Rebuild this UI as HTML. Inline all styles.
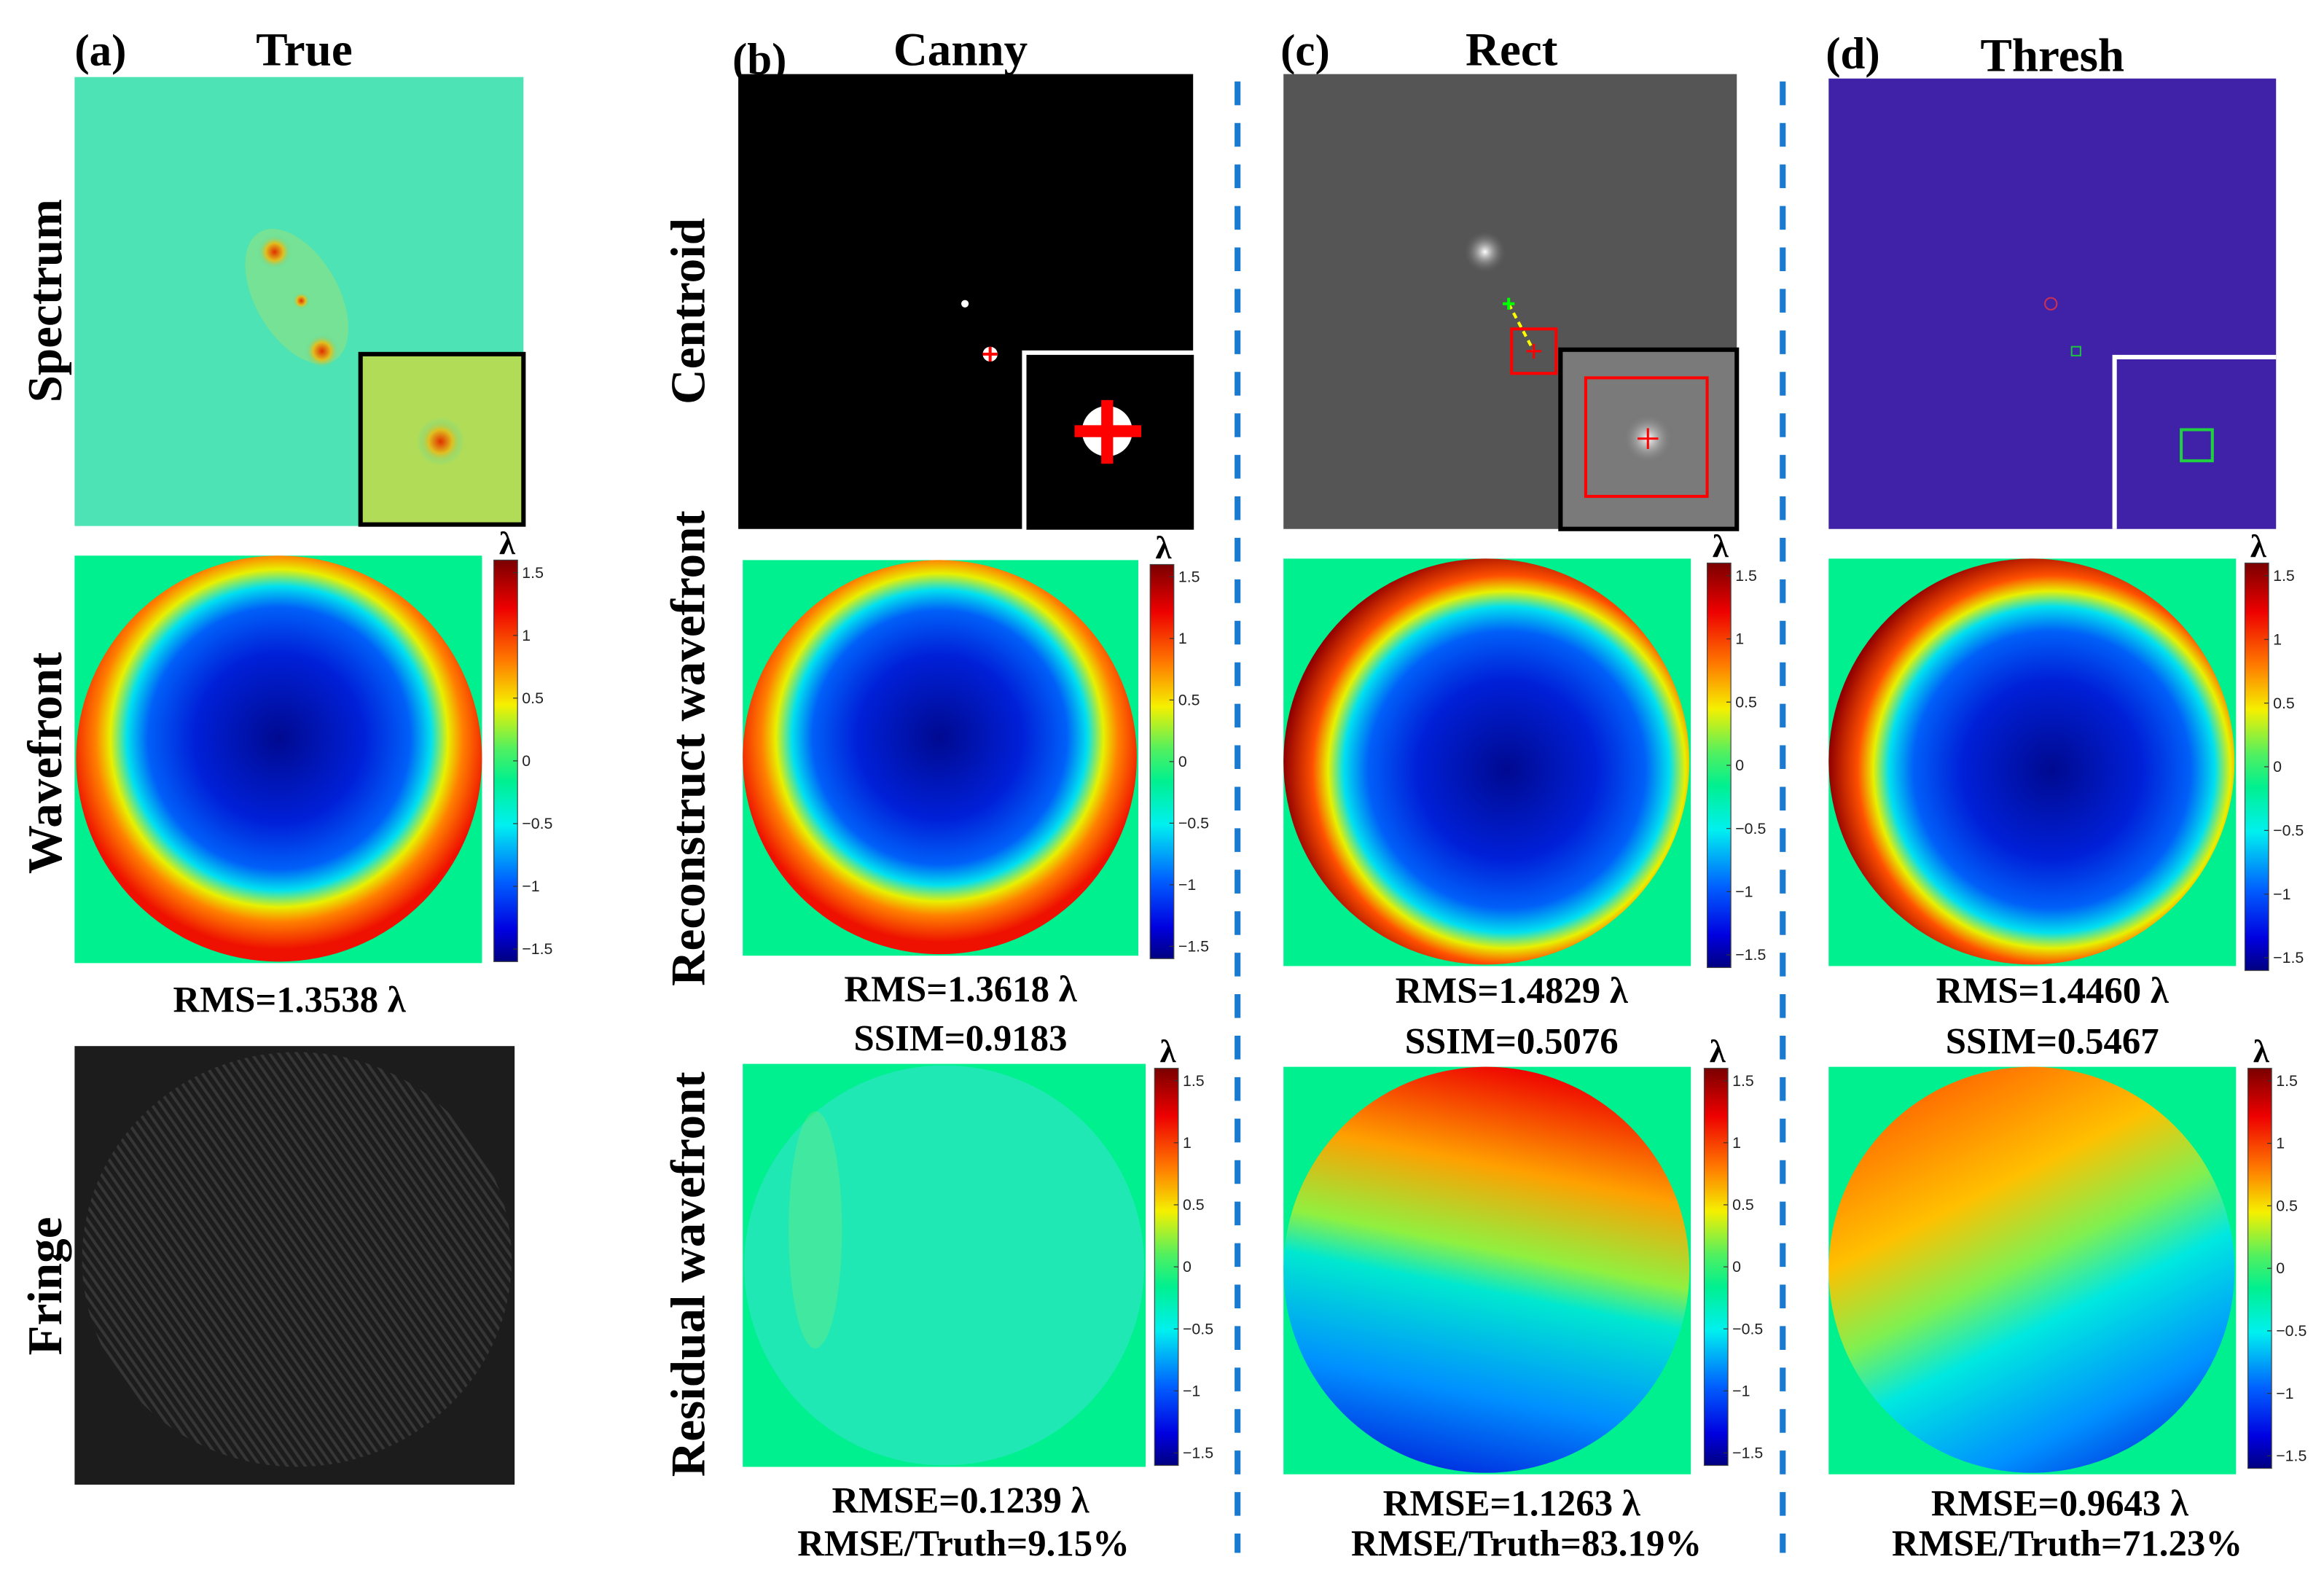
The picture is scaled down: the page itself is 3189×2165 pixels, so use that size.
<!DOCTYPE html>
<html><head><meta charset="utf-8"><style>
html,body{margin:0;padding:0;background:#fff}
svg{display:block}
text{font-family:"Liberation Serif",serif;font-weight:bold;fill:#000}
.cb{font-family:"Liberation Sans",sans-serif;font-weight:normal;font-size:10.5px;fill:#222}
</style></head><body>
<svg id="fig" width="3189" height="2165" viewBox="0 0 1568 1065" xmlns="http://www.w3.org/2000/svg">
<defs>
<linearGradient id="jetV" x1="0" y1="0" x2="0" y2="1">
<stop offset="0" stop-color="#7a0000"/><stop offset="0.12" stop-color="#ee0000"/><stop offset="0.25" stop-color="#ff7a00"/>
<stop offset="0.36" stop-color="#f5f000"/><stop offset="0.47" stop-color="#50f060"/><stop offset="0.55" stop-color="#00f090"/>
<stop offset="0.66" stop-color="#00f0f0"/><stop offset="0.8" stop-color="#0060ff"/><stop offset="0.92" stop-color="#0000e0"/><stop offset="1" stop-color="#000080"/>
</linearGradient>
<radialGradient id="wf" cx="0.5" cy="0.45" r="0.52">
<stop offset="0" stop-color="#000a90"/><stop offset="0.4" stop-color="#0020d8"/><stop offset="0.62" stop-color="#0060f8"/>
<stop offset="0.72" stop-color="#00e0f0"/><stop offset="0.8" stop-color="#e8f000"/><stop offset="0.87" stop-color="#ff8000"/><stop offset="1" stop-color="#ee1000"/>
</radialGradient>
<radialGradient id="wf2" cx="0.55" cy="0.52" r="0.55">
<stop offset="0" stop-color="#000a90"/><stop offset="0.4" stop-color="#0020d8"/><stop offset="0.62" stop-color="#0060f8"/>
<stop offset="0.73" stop-color="#00e0f0"/><stop offset="0.8" stop-color="#e8f000"/><stop offset="0.87" stop-color="#ff5000"/><stop offset="1" stop-color="#900000"/>
</radialGradient>
<linearGradient id="resC" x1="0.6" y1="0" x2="0.4" y2="1">
<stop offset="0" stop-color="#ee0000"/><stop offset="0.25" stop-color="#ffa000"/><stop offset="0.45" stop-color="#90f040"/>
<stop offset="0.55" stop-color="#00e8d0"/><stop offset="0.8" stop-color="#0090ff"/><stop offset="1" stop-color="#0030e0"/>
</linearGradient>
<linearGradient id="resD" x1="0.25" y1="0" x2="0.75" y2="1">
<stop offset="0" stop-color="#ff6000"/><stop offset="0.3" stop-color="#ffc000"/><stop offset="0.48" stop-color="#80f050"/>
<stop offset="0.62" stop-color="#00e8e0"/><stop offset="0.85" stop-color="#0090ff"/><stop offset="1" stop-color="#0040e0"/>
</linearGradient>
<radialGradient id="spot"><stop offset="0" stop-color="#e03000"/><stop offset="0.5" stop-color="#e0c020"/><stop offset="1" stop-color="#4de3b4" stop-opacity="0"/></radialGradient>
<radialGradient id="glow"><stop offset="0" stop-color="#fff"/><stop offset="1" stop-color="#666" stop-opacity="0"/></radialGradient>
<pattern id="fr" width="5" height="5" patternUnits="userSpaceOnUse" patternTransform="rotate(-35)">
<rect width="5" height="5" fill="#1c1c1c"/><rect width="2" height="5" fill="#3c3c3c"/></pattern>
</defs>

<text x="50" y="44" font-size="30">(a)</text>
<text x="205" y="44" font-size="32" text-anchor="middle">True</text>
<text x="494" y="50" font-size="30">(b)</text>
<text x="648" y="44" font-size="32" text-anchor="middle">Canny</text>
<text x="864" y="44" font-size="30">(c)</text>
<text x="1020" y="44" font-size="32" text-anchor="middle">Rect</text>
<text x="1232" y="46" font-size="30">(d)</text>
<text x="1385" y="48" font-size="32" text-anchor="middle">Thresh</text>

<text transform="translate(41,203) rotate(-90)" font-size="33" text-anchor="middle">Spectrum</text>
<text transform="translate(41,515) rotate(-90)" font-size="33" text-anchor="middle">Wavefront</text>
<text transform="translate(41,868) rotate(-90)" font-size="33" text-anchor="middle">Fringe</text>
<text transform="translate(475,210) rotate(-90)" font-size="33" text-anchor="middle">Centroid</text>
<text transform="translate(475,505) rotate(-90)" font-size="33" text-anchor="middle">Reconstruct wavefront</text>
<text transform="translate(475,860) rotate(-90)" font-size="33" text-anchor="middle">Residual wavefront</text>

<line x1="835" y1="55" x2="835" y2="1048" stroke="#1a7ad0" stroke-width="4" stroke-dasharray="16,12"/>
<line x1="1203" y1="55" x2="1203" y2="1048" stroke="#1a7ad0" stroke-width="4" stroke-dasharray="16,12"/>

<g>
<rect x="50" y="52" width="303" height="303" fill="#4de3b4"/>
<ellipse cx="200" cy="200" rx="28" ry="50" fill="#a8e070" opacity="0.45" transform="rotate(-30 200 200)"/>
<circle cx="185" cy="170" r="12" fill="url(#spot)"/>
<circle cx="203" cy="203" r="6" fill="url(#spot)"/>
<circle cx="217" cy="237" r="12" fill="url(#spot)"/>
<rect x="243" y="239" width="110" height="115" fill="#b0dc58" stroke="#000" stroke-width="3"/>
<circle cx="297" cy="298" r="16" fill="url(#spot)"/>
</g>
<g>
<rect x="50" y="375" width="275" height="275" fill="#00f090"/>
<ellipse cx="188" cy="512" rx="137" ry="137" fill="url(#wf)"/>
</g>
<text x="195" y="683" font-size="25" text-anchor="middle">RMS=1.3538 λ</text>
<g>
<rect x="50" y="706" width="297" height="296" fill="#1c1c1c"/>
<ellipse cx="200" cy="850" rx="145" ry="140" fill="url(#fr)" opacity="0.8"/>
</g>

<g>
<rect x="498" y="50" width="307" height="307" fill="#000"/>
<circle cx="651" cy="205" r="2.5" fill="#fff"/>
<circle cx="668" cy="239" r="5" fill="#fff"/>
<path d="M663 239h10M668 234v10" stroke="#f00" stroke-width="2"/>
<rect x="691" y="238" width="116" height="121" fill="#000" stroke="#fff" stroke-width="3"/>
<circle cx="747" cy="291" r="17" fill="#fff"/>
<path d="M725 291h45M747 270v43" stroke="#f00" stroke-width="8"/>
</g>
<g>
<rect x="501" y="378" width="267" height="267" fill="#00f090"/>
<ellipse cx="634" cy="511" rx="133" ry="133" fill="url(#wf)"/>
</g>
<text x="648" y="676" font-size="25" text-anchor="middle">RMS=1.3618 λ</text>
<text x="648" y="709" font-size="25" text-anchor="middle">SSIM=0.9183</text>
<g>
<rect x="501" y="718" width="272" height="272" fill="#00f090"/>
<ellipse cx="637" cy="854" rx="135" ry="135" fill="#20e8b4"/>
<ellipse cx="550" cy="830" rx="18" ry="80" fill="#90e870" opacity="0.3"/>
</g>
<text x="648" y="1021" font-size="25" text-anchor="middle">RMSE=0.1239 λ</text>
<text x="650" y="1050" font-size="25" text-anchor="middle">RMSE/Truth=9.15%</text>

<g>
<rect x="866" y="50" width="306" height="307" fill="#555"/>
<circle cx="1002" cy="170" r="14" fill="url(#glow)"/>
<line x1="1018" y1="205" x2="1035" y2="237" stroke="#ff0" stroke-width="2" stroke-dasharray="4,3"/>
<path d="M1014 205h8M1018 201v8" stroke="#0f0" stroke-width="2"/>
<rect x="1020" y="222" width="30" height="30" fill="none" stroke="#f00" stroke-width="2"/>
<path d="M1030 237h10M1035 232v10" stroke="#f00" stroke-width="1.5"/>
<rect x="1053" y="236" width="119" height="121" fill="#7a7a7a" stroke="#000" stroke-width="3"/>
<circle cx="1112" cy="296" r="18" fill="url(#glow)"/>
<rect x="1070" y="255" width="82" height="80" fill="none" stroke="#f00" stroke-width="2"/>
<path d="M1105 296h14M1112 289v14" stroke="#f00" stroke-width="1.5"/>
</g>
<g>
<rect x="866" y="377" width="275" height="275" fill="#00f090"/>
<ellipse cx="1003" cy="514" rx="137" ry="137" fill="url(#wf2)"/>
</g>
<text x="1020" y="677" font-size="25" text-anchor="middle">RMS=1.4829 λ</text>
<text x="1020" y="711" font-size="25" text-anchor="middle">SSIM=0.5076</text>
<g>
<rect x="866" y="720" width="275" height="275" fill="#00f090"/>
<ellipse cx="1003" cy="857" rx="137" ry="137" fill="url(#resC)"/>
</g>
<text x="1020" y="1023" font-size="25" text-anchor="middle">RMSE=1.1263 λ</text>
<text x="1030" y="1050" font-size="25" text-anchor="middle">RMSE/Truth=83.19%</text>

<g>
<rect x="1234" y="53" width="302" height="304" fill="#3f22a8"/>
<circle cx="1384" cy="205" r="4" fill="none" stroke="#d03050" stroke-width="1"/>
<rect x="1398" y="234" width="6" height="6" fill="none" stroke="#20c040" stroke-width="1"/>
<path d="M1427 357V241H1536" fill="none" stroke="#fff" stroke-width="3"/>
<rect x="1472" y="290" width="21" height="21" fill="none" stroke="#20d040" stroke-width="2"/>
</g>
<g>
<rect x="1234" y="377" width="275" height="275" fill="#00f090"/>
<ellipse cx="1371" cy="514" rx="137" ry="137" fill="url(#wf2)"/>
</g>
<text x="1385" y="677" font-size="25" text-anchor="middle">RMS=1.4460 λ</text>
<text x="1385" y="711" font-size="25" text-anchor="middle">SSIM=0.5467</text>
<g>
<rect x="1234" y="720" width="275" height="275" fill="#00f090"/>
<ellipse cx="1371" cy="857" rx="137" ry="137" fill="url(#resD)"/>
</g>
<text x="1390" y="1023" font-size="25" text-anchor="middle">RMSE=0.9643 λ</text>
<text x="1395" y="1050" font-size="25" text-anchor="middle">RMSE/Truth=71.23%</text>

<g id="cbars"></g>
</svg>
<script>
const tickValues = [1.5, 1, 0.5, 0, -0.5, -1, -1.5];
const tickLabels = ["1.5", "1", "0.5", "0", "-0.5", "-1", "-1.5"];
const colorRange = [-1.6, 1.6];
const bars = [
  {n:"a-wavefront", x:333, y0:378, y1:649},
  {n:"b-reconstruct", x:776, y0:381, y1:647},
  {n:"b-residual", x:779, y0:721, y1:989},
  {n:"c-reconstruct", x:1152, y0:380, y1:653},
  {n:"c-residual", x:1150, y0:721, y1:989},
  {n:"d-reconstruct", x:1515, y0:380, y1:655},
  {n:"d-residual", x:1517, y0:721, y1:991}
];
const NS = "http://www.w3.org/2000/svg";
const g = document.getElementById("cbars");
bars.forEach(b => {
  const grp = document.createElementNS(NS, "g");
  
  
  const r = document.createElementNS(NS, "rect");
  r.setAttribute("x", b.x); r.setAttribute("y", b.y0);
  r.setAttribute("width", 16); r.setAttribute("height", b.y1 - b.y0);
  r.setAttribute("fill", "url(#jetV)"); r.setAttribute("stroke", "#444"); r.setAttribute("stroke-width", "0.6");
  
  
  grp.appendChild(r);
  const yScale = v => b.y0 + (colorRange[1] - v) / (colorRange[1] - colorRange[0]) * (b.y1 - b.y0);
  tickValues.forEach((v, i) => {
    const y = yScale(v);
    const t = document.createElementNS(NS, "line");
    t.setAttribute("x1", b.x + 13); t.setAttribute("x2", b.x + 16);
    t.setAttribute("y1", y); t.setAttribute("y2", y);
    t.setAttribute("stroke", "#333"); t.setAttribute("stroke-width", "0.6");
    
    
    grp.appendChild(t);
    const tx = document.createElementNS(NS, "text");
    tx.setAttribute("x", b.x + 19); tx.setAttribute("y", y + 3.5);
    tx.setAttribute("class", "cb");
    tx.textContent = tickLabels[i].replace("-", "\u2212");
    
    
    grp.appendChild(tx);
  });
  const l = document.createElementNS(NS, "text");
  l.setAttribute("x", b.x + 9); l.setAttribute("y", b.y0 - 4);
  l.setAttribute("text-anchor", "middle"); l.setAttribute("font-size", "22");
  l.textContent = "λ";
  
  
  grp.appendChild(l);
  g.appendChild(grp);
});
</script>
</body></html>
